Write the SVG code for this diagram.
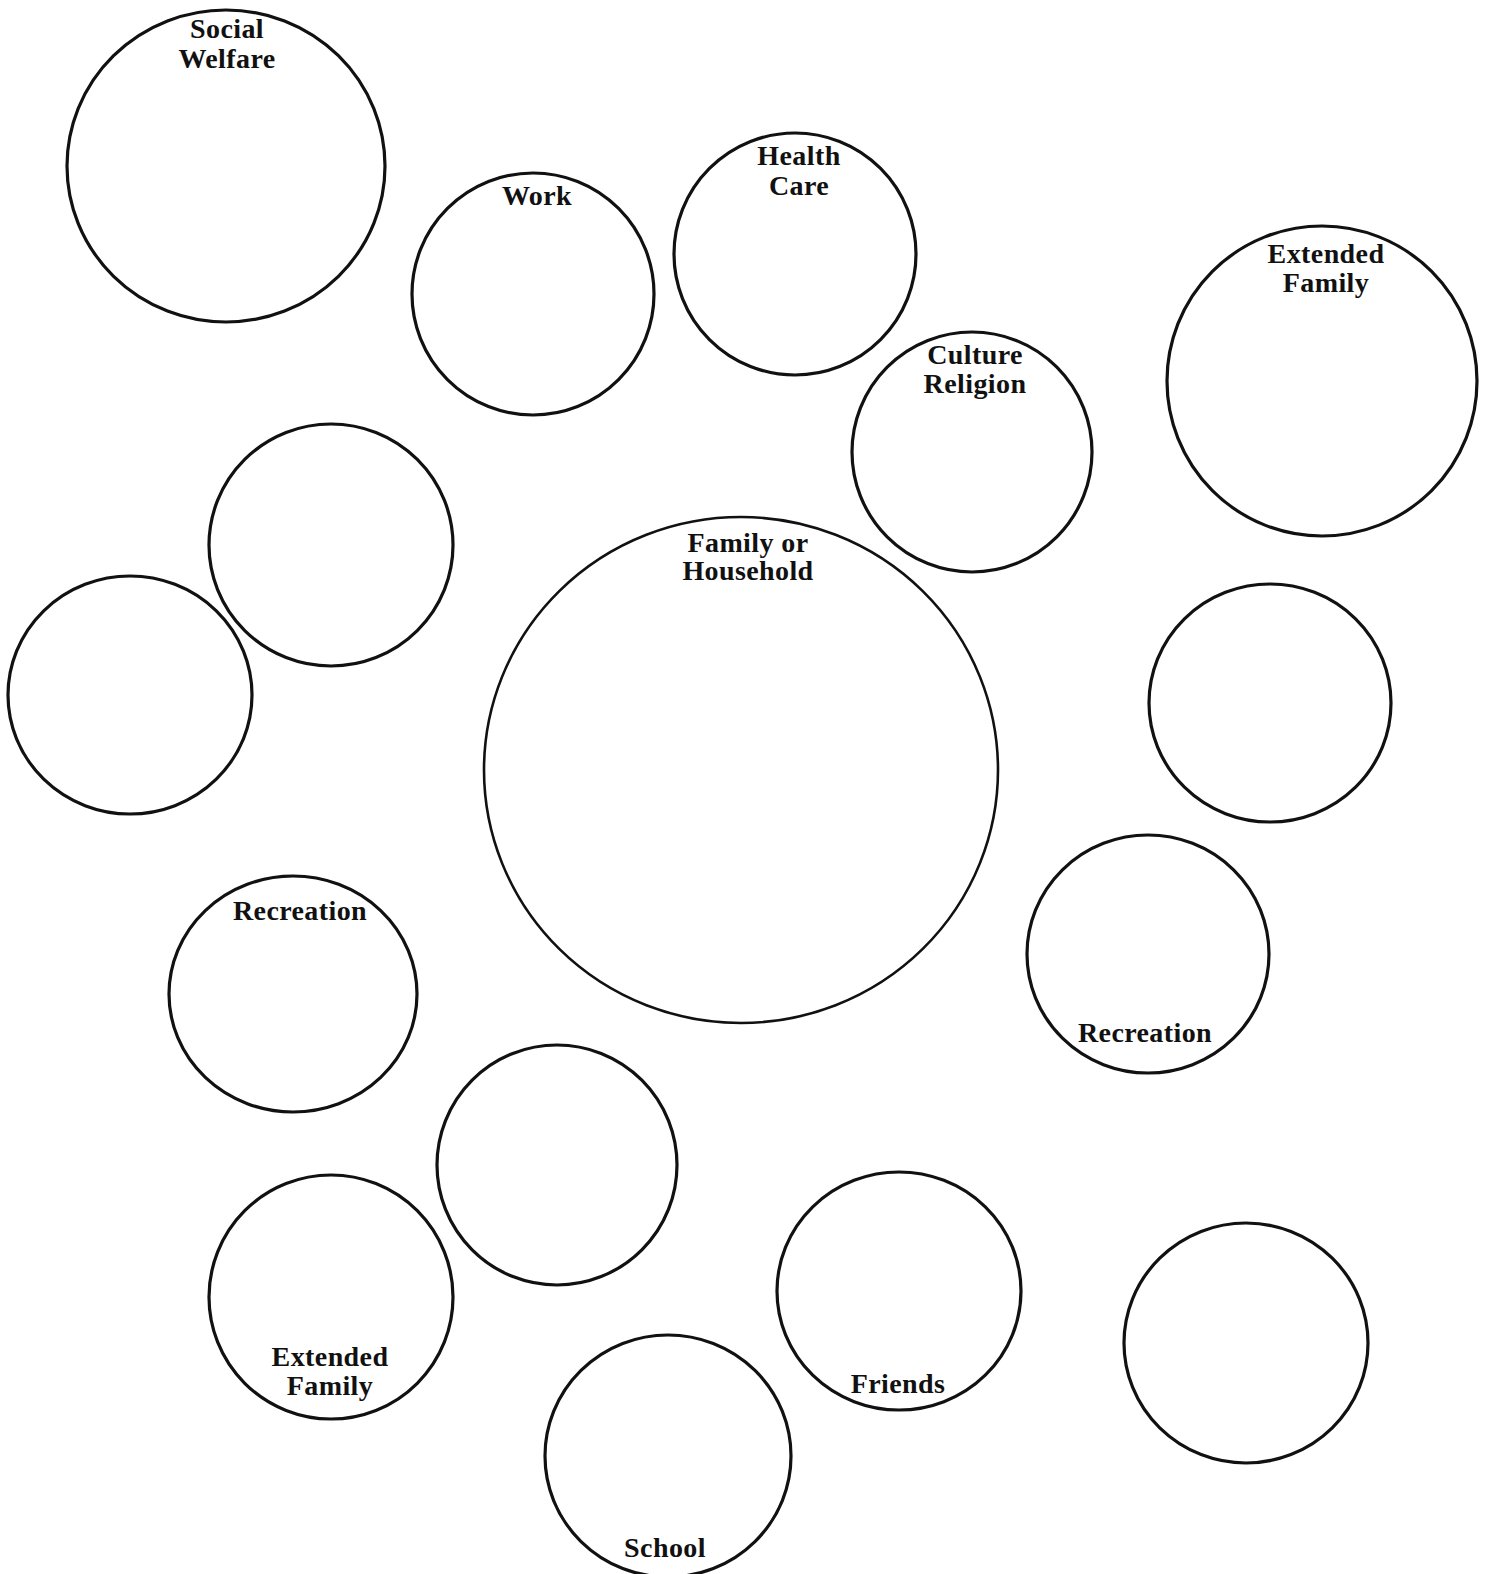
<svg xmlns="http://www.w3.org/2000/svg" width="1487" height="1574" viewBox="0 0 1487 1574">
<style>
  .c { fill: none; stroke: #111; stroke-width: 3.2; }
  .big { stroke-width: 2.6; }
  .t { font-family: "Liberation Serif", "Times New Roman", serif; font-weight: bold; font-size: 28px; fill: #111; text-anchor: middle; letter-spacing: 0.4px; }
</style>
<rect width="1487" height="1574" fill="#fff"/>
<g id="social-welfare">
  <ellipse class="c" cx="226" cy="166" rx="159" ry="156"/>
  <text class="t" x="227" y="38">Social</text>
  <text class="t" x="227" y="68">Welfare</text>
</g>
<g id="work">
  <ellipse class="c" cx="533" cy="294" rx="121" ry="121"/>
  <text class="t" x="537" y="205">Work</text>
</g>
<g id="health-care">
  <ellipse class="c" cx="795" cy="254" rx="121" ry="121"/>
  <text class="t" x="799" y="165">Health</text>
  <text class="t" x="799" y="195">Care</text>
</g>
<g id="culture-religion">
  <ellipse class="c" cx="972" cy="452" rx="120" ry="120"/>
  <text class="t" x="975" y="364">Culture</text>
  <text class="t" x="975" y="393">Religion</text>
</g>
<g id="extended-family-top">
  <ellipse class="c" cx="1322" cy="381" rx="155" ry="155"/>
  <text class="t" x="1326" y="263">Extended</text>
  <text class="t" x="1326" y="292">Family</text>
</g>
<g id="empty-upper-left">
  <ellipse class="c" cx="331" cy="545" rx="122" ry="121"/>
</g>
<g id="empty-left">
  <ellipse class="c" cx="130" cy="695" rx="122" ry="119"/>
</g>
<g id="family-household">
  <ellipse class="c big" cx="741" cy="770" rx="257" ry="253"/>
  <text class="t" x="748" y="552">Family or</text>
  <text class="t" x="748" y="580">Household</text>
</g>
<g id="empty-right">
  <ellipse class="c" cx="1270" cy="703" rx="121" ry="119"/>
</g>
<g id="recreation-left">
  <ellipse class="c" cx="293" cy="994" rx="124" ry="118"/>
  <text class="t" x="300" y="920">Recreation</text>
</g>
<g id="recreation-right">
  <ellipse class="c" cx="1148" cy="954" rx="121" ry="119"/>
  <text class="t" x="1145" y="1042">Recreation</text>
</g>
<g id="empty-middle">
  <ellipse class="c" cx="557" cy="1165" rx="120" ry="120"/>
</g>
<g id="extended-family-bottom">
  <ellipse class="c" cx="331" cy="1297" rx="122" ry="122"/>
  <text class="t" x="330" y="1366">Extended</text>
  <text class="t" x="330" y="1395">Family</text>
</g>
<g id="friends">
  <ellipse class="c" cx="899" cy="1291" rx="122" ry="119"/>
  <text class="t" x="898" y="1393">Friends</text>
</g>
<g id="empty-bottom-right">
  <ellipse class="c" cx="1246" cy="1343" rx="122" ry="120"/>
</g>
<g id="school">
  <ellipse class="c" cx="668" cy="1456" rx="123" ry="121"/>
  <text class="t" x="665" y="1557">School</text>
</g>
<g id="connectors"></g>
</svg>
